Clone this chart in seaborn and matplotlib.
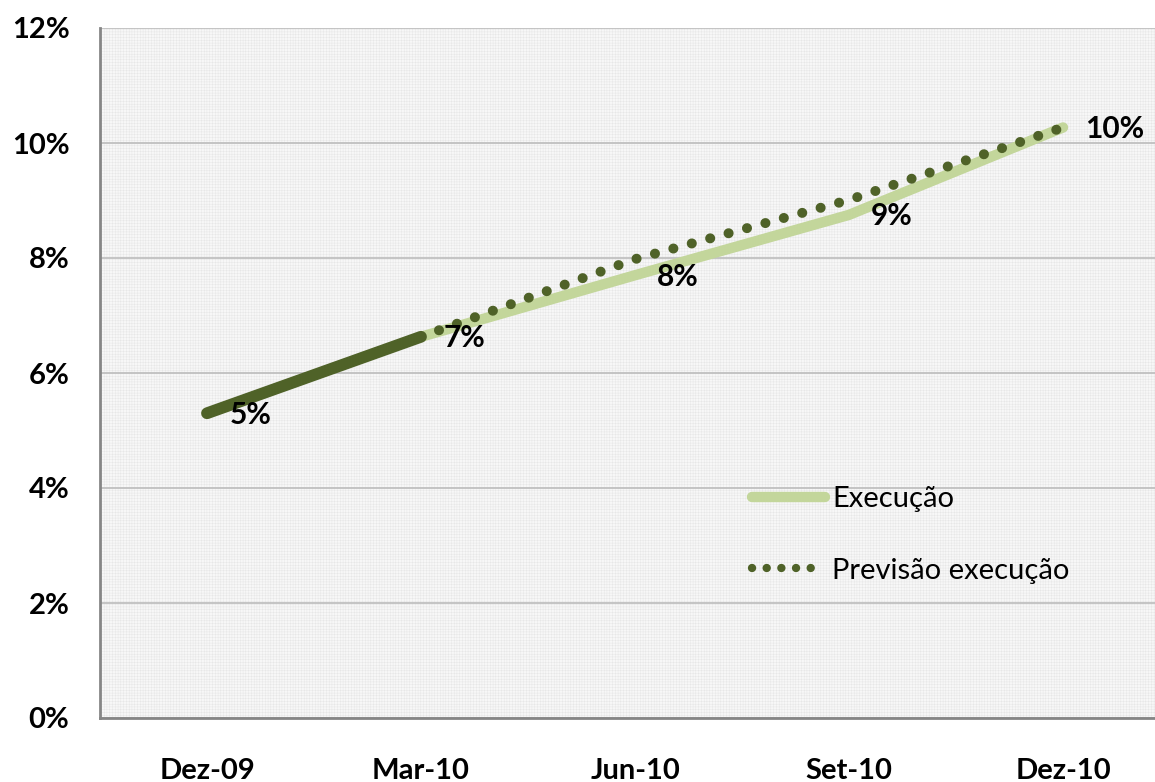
import matplotlib
matplotlib.use("Agg")
import matplotlib.pyplot as plt
from matplotlib.lines import Line2D
from matplotlib.patches import Rectangle
import seaborn as sns

# data (percent), quarterly points
periodos = ["Dez-09", "Mar-10", "Jun-10", "Set-10", "Dez-10"]
execucao = [5.30, 6.63, 7.70, 8.75, 10.27]
previsao = [None, 6.63, 7.98, 9.01, 10.27]
rotulos = ["5%", "7%", "8%", "9%", "10%"]
y_ticks = [0, 2, 4, 6, 8, 10, 12]

sns.set_theme(style="white")
plt.rcParams["font.family"] = ["Lato", "DejaVu Sans"]
plt.rcParams["hatch.linewidth"] = 0.3

escuro = "#4f6228"
claro = "#c3d69b"

fig = plt.figure(figsize=(11.55, 7.82), dpi=100)
ax = fig.add_axes([100 / 1155, 64 / 782, 1070 / 1155, 690 / 782])

# background texture
ax.set_facecolor("#f7f7f7")
ax.add_patch(Rectangle((0, 0), 1, 1, transform=ax.transAxes, facecolor="none",
                       edgecolor="#e4e4e4", hatch="++++++", linewidth=0, zorder=0))

x = list(range(len(periodos)))
xp = [i for i, v in zip(x, previsao) if v is not None]
yp = [v for v in previsao if v is not None]

sns.lineplot(x=x[1:], y=execucao[1:], ax=ax, color=claro, linewidth=7.5,
             solid_capstyle="round", zorder=3)
sns.lineplot(x=xp, y=yp, ax=ax, color=escuro, linewidth=7.2,
             linestyle=(0, (0.01, 1.9)), dash_capstyle="round", zorder=4)
sns.lineplot(x=x[:2], y=execucao[:2], ax=ax, color=escuro, linewidth=8.5,
             solid_capstyle="round", zorder=5)

for xi, yi, lab in zip(x, execucao, rotulos):
    ax.annotate(lab, (xi, yi), xytext=(16, -1), textcoords="offset points",
                ha="left", va="center", fontsize=21.5, fontweight="bold",
                color="black", zorder=6)

ax.set_xlim(-0.5, 4.5)
ax.set_ylim(0, 12)
ax.set_yticks(y_ticks)
ax.set_yticklabels([f"{v}%" for v in y_ticks])
ax.set_xticks(x)
ax.set_xticklabels(periodos)
ax.tick_params(axis="y", length=0, pad=22, labelsize=21, labelcolor="black")
ax.tick_params(axis="x", length=0, pad=29, labelsize=21, labelcolor="black")
for lab in ax.get_xticklabels() + ax.get_yticklabels():
    lab.set_fontweight("bold")

ax.yaxis.grid(True, color="#c0c0c0", linewidth=1.3, zorder=1)
ax.xaxis.grid(False)
ax.set_axisbelow(True)
for s in ["top", "right"]:
    ax.spines[s].set_visible(False)
for s in ["left", "bottom"]:
    ax.spines[s].set_color("#868686")
    ax.spines[s].set_linewidth(2)

handles = [
    Line2D([], [], color=claro, linewidth=7.5, solid_capstyle="round"),
    Line2D([], [], color=escuro, linewidth=6, linestyle=(0, (0.01, 1.75)),
           dash_capstyle="round"),
]
fig.legend(handles, ["Execução", "Previsão execução"], loc="center left",
           bbox_to_anchor=(752 / 1155, 1 - 535 / 782), frameon=False,
           fontsize=21, handlelength=2.5, handletextpad=0.25, labelspacing=1.55,
           borderpad=0, borderaxespad=0, labelcolor="black")

fig.savefig("out.png", dpi=100)
